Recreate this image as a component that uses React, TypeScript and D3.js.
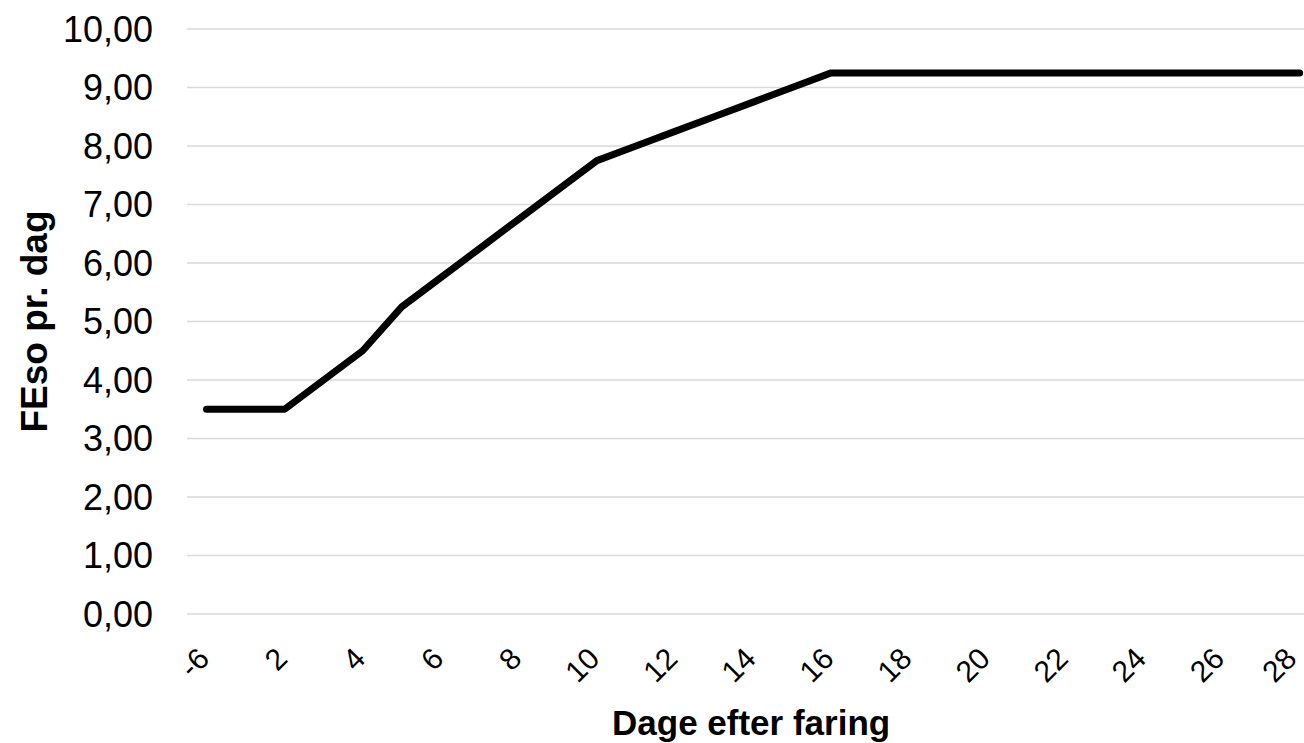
import React from "react";
import * as d3 from "d3";

const categories: string[] = [
  "-6", "1", "2", "3", "4", "5", "6", "7", "8", "9", "10", "11", "12", "13", "14",
  "15", "16", "17", "18", "19", "20", "21", "22", "23", "24", "25", "26", "27", "28",
];
const feso: number[] = [
  3.5, 3.5, 3.5, 4.0, 4.5, 5.25, 5.75, 6.25, 6.75, 7.25, 7.75, 8.0, 8.25, 8.5, 8.75,
  9.0, 9.25, 9.25, 9.25, 9.25, 9.25, 9.25, 9.25, 9.25, 9.25, 9.25, 9.25, 9.25, 9.25,
];
const yTicks: number[] = [0, 1, 2, 3, 4, 5, 6, 7, 8, 9, 10];
const xTitle = "Dage efter faring";
const yTitle = "FEso pr. dag";

const W = 1304;
const H = 743;
const FONT = "'Liberation Sans', Arial, Helvetica, sans-serif";

export default function App() {
  const left = 187;
  const step = 39.04;
  const right = left + step * categories.length;
  const x = d3.scaleBand<string>().domain(categories).range([left, right]).paddingInner(0).paddingOuter(0);
  const cx = (c: string) => (x(c) ?? 0) + x.bandwidth() / 2;
  const y = d3.scaleLinear().domain([0, 10]).range([614, 29]);
  const fmt = (v: number) => d3.format(".2f")(v).replace(".", ",");

  const line = d3
    .line<number>()
    .x((_, i) => cx(categories[i]))
    .y((d) => y(d));

  return (
    <svg
      width={W}
      height={H}
      style={{ position: "absolute", left: 0, top: 0, display: "block", background: "#fff" }}
      fontFamily={FONT}
    >
      <g>
        {yTicks.map((t) => (
          <line key={t} x1={left} x2={right} y1={y(t)} y2={y(t)} stroke="#d9d9d9" strokeWidth={1.5} />
        ))}
      </g>
      <g>
        {yTicks.map((t) => (
          <text key={t} x={153} y={y(t)} dy="0.36em" textAnchor="end" fontSize={36} fill="#000">
            {fmt(t)}
          </text>
        ))}
      </g>
      <g>
        {categories.map((c, i) =>
          i % 2 === 0 ? (
            <text
              key={c}
              transform={`translate(${Math.min(cx(c) - 3, W - 13)},653) rotate(-45)`}
              textAnchor="end"
              dy="0.35em"
              fontSize={30}
              fill="#000"
            >
              {c}
            </text>
          ) : null
        )}
      </g>
      <path
        d={line(feso) ?? ""}
        fill="none"
        stroke="#000"
        strokeWidth={7}
        strokeLinejoin="round"
        strokeLinecap="round"
      />
      <text x={(left + right) / 2 - 2} y={735} textAnchor="middle" fontSize={35} fontWeight="bold" fill="#000">
        {xTitle}
      </text>
      <text
        transform={`translate(47,${(y(0) + y(10)) / 2}) rotate(-90)`}
        textAnchor="middle"
        fontSize={37}
        fontWeight="bold"
        fill="#000"
      >
        {yTitle}
      </text>
    </svg>
  );
}
